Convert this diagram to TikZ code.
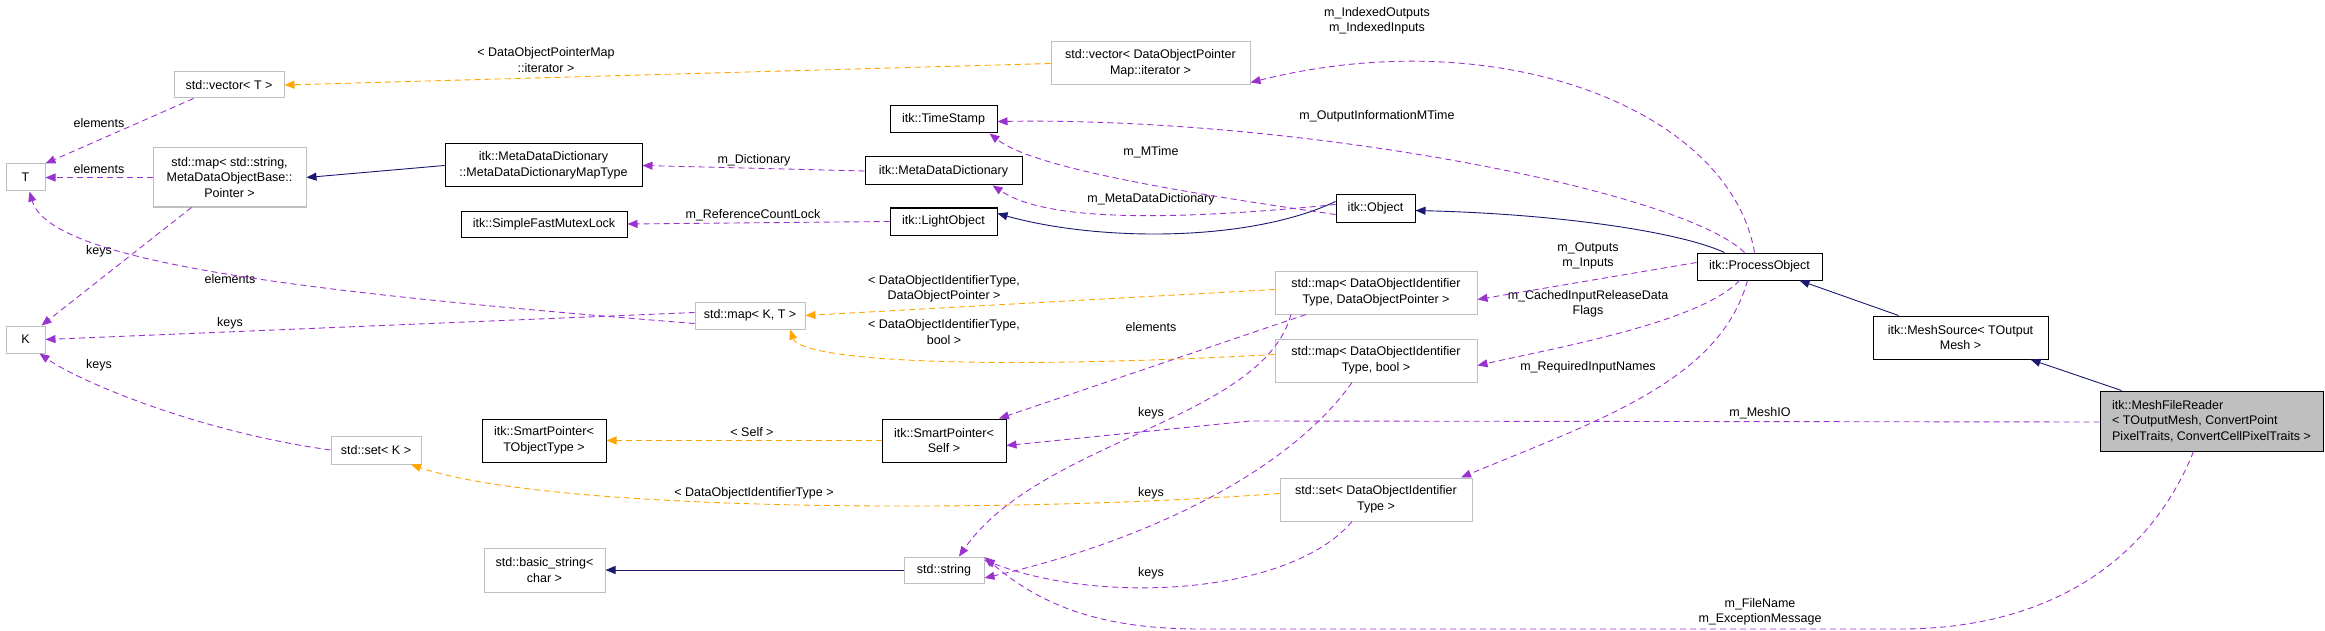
\documentclass[tikz,border=0pt]{standalone}
\usepackage{fontspec}
\setmainfont{Liberation Sans}
\usetikzlibrary{arrows.meta}
\definecolor{pur}{HTML}{9A32CD}
\definecolor{org}{HTML}{FFA500}
\definecolor{nav}{HTML}{191970}
\definecolor{gb}{HTML}{BFBFBF}
\begin{document}
\begin{tikzpicture}[x=1pt,y=-1pt,
  font=\fontsize{12.5}{15.5}\selectfont,
  box/.style={draw=black,line width=1pt,inner sep=0pt,align=center,minimum width=#1},
  gbox/.style={box=#1,draw=gb},
  lab/.style={inner sep=0pt,align=center},
  tip/.style={-{Triangle[length=10pt,width=8pt]}},
  mem/.style={tip,pur,line width=0.9pt,dash pattern=on 6pt off 4pt},
  tpl/.style={tip,org,line width=0.9pt,dash pattern=on 6pt off 4pt},
  inh/.style={tip,nav,line width=0.9pt}]
\useasboundingbox (0,0) rectangle (2325,631);
% nodes
\node[gbox=110pt,minimum height=26pt] (vecT) at (229,85) {std::vector< T >};
\node[gbox=39pt,minimum height=27pt] (T) at (25.5,177.5) {T};
\node[gbox=153pt,minimum height=59pt] (mapStr) at (229.5,177.5) {std::map< std::string,\\MetaDataObjectBase::\\Pointer >};
\node[box=197pt,minimum height=43pt] (MDDMT) at (543.5,165.5) {itk::MetaDataDictionary\\::MetaDataDictionaryMapType};
\node[box=166pt,minimum height=26pt] (SFML) at (544,224) {itk::SimpleFastMutexLock};
\node[gbox=39pt,minimum height=27pt] (K) at (25.5,339.5) {K};
\node[gbox=110pt,minimum height=27pt] (mapKT) at (750,315.5) {std::map< K, T >};
\node[gbox=90pt,minimum height=28pt] (setK) at (376,450) {std::set< K >};
\node[box=124pt,minimum height=43pt] (SPT) at (544,440.5) {itk::SmartPointer<\\TObjectType >};
\node[gbox=121pt,minimum height=44pt] (bstr) at (544.5,570) {std::basic\_string<\\char >};
\node[gbox=199pt,minimum height=43pt] (vecD) at (1150.5,63.5) {std::vector< DataObjectPointer\\Map::iterator >};
\node[box=107pt,minimum height=27pt] (TS) at (943.5,119.5) {itk::TimeStamp};
\node[box=157pt,minimum height=28pt] (MDD) at (943.5,171) {itk::MetaDataDictionary};
\node[box=107pt,minimum height=27pt] (LO) at (943.5,221.5) {itk::LightObject};
\node[box=79pt,minimum height=27pt] (Obj) at (1375.5,208.5) {itk::Object};
\node[gbox=202pt,minimum height=43pt] (mapDOP) at (1376,292.5) {std::map< DataObjectIdentifier\\Type, DataObjectPointer >};
\node[gbox=202pt,minimum height=43pt] (mapB) at (1376,360.5) {std::map< DataObjectIdentifier\\Type, bool >};
\node[box=124pt,minimum height=43pt] (SPS) at (944,440.5) {itk::SmartPointer<\\Self >};
\node[gbox=192pt,minimum height=43pt] (setD) at (1376,499.5) {std::set< DataObjectIdentifier\\Type >};
\node[gbox=80pt,minimum height=26pt] (str) at (944,570) {std::string};
\node[box=125pt,minimum height=27pt] (PO) at (1759.5,266.5) {itk::ProcessObject};
\node[box=175pt,minimum height=43pt] (MS) at (1960.5,337.5) {itk::MeshSource< TOutput\\Mesh >};
\node[box=223pt,minimum height=60pt,fill=gb,align=left] (MFR) at (2211.5,421) {itk::MeshFileReader\\< TOutputMesh, ConvertPoint\\PixelTraits, ConvertCellPixelTraits >};
% labels
\node[lab] (l1) at (546,60) {< DataObjectPointerMap\\::iterator >};
\node[lab] (l2) at (99,123) {elements};
\node[lab] (l3) at (99,169) {elements};
\node[lab] (l4) at (99,251) {keys};
\node[lab] (l5) at (230,279) {elements};
\node[lab] (l6) at (230,323) {keys};
\node[lab] (l7) at (99,365) {keys};
\node[lab] (l8) at (754,160) {m\_Dictionary};
\node[lab] (l9) at (753,215) {m\_ReferenceCountLock};
\node[lab] (l10) at (752,432) {< Self >};
\node[lab] (l11) at (754,493) {< DataObjectIdentifierType >};
\node[lab] (l12) at (1377,21) {m\_IndexedOutputs\\m\_IndexedInputs};
\node[lab] (l13) at (1377,116) {m\_OutputInformationMTime};
\node[lab] (l14) at (1151,152) {m\_MTime};
\node[lab] (l15) at (1151,199) {m\_MetaDataDictionary};
\node[lab] (l16) at (944,289) {< DataObjectIdentifierType,\\DataObjectPointer >};
\node[lab] (l17) at (944,332) {< DataObjectIdentifierType,\\bool >};
\node[lab] (l18) at (1151,327) {elements};
\node[lab] (l19) at (1151,413) {keys};
\node[lab] (l20) at (1151,493) {keys};
\node[lab] (l21) at (1151,573) {keys};
\node[lab] (l22) at (1588,256) {m\_Outputs\\m\_Inputs};
\node[lab] (l23) at (1588,304) {m\_CachedInputReleaseData\\Flags};
\node[lab] (l24) at (1588,367) {m\_RequiredInputNames};
\node[lab] (l25) at (1760,413) {m\_MeshIO};
\node[lab] (l26) at (1760,612) {m\_FileName\\m\_ExceptionMessage};
% edges
\coordinate (a1) at (1250,421);
\coordinate (a2) at (1900,629);
\coordinate (a3) at (1200,629);
\draw[tpl] (vecD.west) -- (vecT.east);
\draw[mem] (vecT.south west) ++(20,0) coordinate (c1) (c1) -- (T.north east);
\draw[mem] (mapStr.west) -- (T.east);
\draw[mem] ([xshift=-38pt]mapStr.south) -- ([xshift=16pt]K.north);
\draw[inh] (MDDMT.west) -- (mapStr.east);
\draw[mem] (MDD.west) -- (MDDMT.east);
\draw[mem] (LO.west) -- (SFML.east);
\draw[mem] ([yshift=-8pt]mapKT.west) .. controls (300,292) and (50,262) .. ([xshift=4pt]T.south);
\draw[mem] ([yshift=3pt]mapKT.west) -- (K.east);
\draw[mem] (setK.west) .. controls (200,432) and (80,382) .. ([xshift=14pt]K.south);
\draw[tpl] ([yshift=6pt]setD.west) .. controls (1000,514) and (550,512) .. ([xshift=35pt]setK.south);
\draw[tpl] (SPS.west) -- (SPT.east);
\draw[inh] (str.west) -- (bstr.east);
\draw[tpl] ([yshift=3pt]mapDOP.west) -- (mapKT.east);
\draw[tpl] ([yshift=6pt]mapB.west) .. controls (950,372) and (800,358) .. ([xshift=40pt]mapKT.south);
\draw[mem] ([xshift=-70pt]mapDOP.south) -- ([xshift=55pt]SPS.north);
\draw[mem] ([xshift=-85pt]mapDOP.south) .. controls (1262,420) and (1040,440) .. ([xshift=15pt]str.north);
\draw[mem] ([xshift=-24pt]mapB.south) .. controls (1290,470) and (1150,540) .. ([yshift=-8pt]str.east);
\draw[mem] ([xshift=-24pt]setD.south) .. controls (1290,595) and (1100,605) .. ([yshift=10pt]str.east);
\draw[mem] ([xshift=-18pt]MFR.south) .. controls (2150,560) and (2050,629) .. (a2) -- (a3) .. controls (1100,629) and (1040,605) .. ([yshift=13pt]str.east);
\draw[mem] ([yshift=-1pt]MFR.west) -- (a1) -- ([yshift=-5pt]SPS.east);
\draw[inh] ([xshift=-90pt]MFR.north) -- ([xshift=70pt]MS.south);
\draw[inh] ([xshift=-62pt]MS.north) -- ([xshift=40pt]PO.south);
\draw[inh] ([xshift=-35pt]PO.north) .. controls (1680,232) and (1560,214) .. ([yshift=-2pt]Obj.east);
\draw[inh] ([yshift=7pt]Obj.west) .. controls (1250,242) and (1100,242) .. ([yshift=8pt]LO.east);
\draw[mem] ([yshift=-6pt]Obj.west) .. controls (1150,188) and (1030,165) .. ([xshift=-8pt]TS.south east);
\draw[mem] ([yshift=4pt]Obj.west) .. controls (1100,228) and (1030,210) .. ([xshift=-30pt]MDD.south east);
\draw[mem] ([xshift=-15pt]PO.north) .. controls (1680,190) and (1300,117) .. ([yshift=-2pt]TS.east);
\draw[mem] ([xshift=-5pt]PO.north) .. controls (1730,110) and (1500,20) .. ([yshift=-19pt]vecD.east);
\draw[mem] ([yshift=4pt]PO.west) -- ([yshift=-7pt]mapDOP.east);
\draw[mem] ([xshift=-20pt]PO.south) .. controls (1700,322) and (1560,347) .. ([yshift=-5pt]mapB.east);
\draw[mem] ([xshift=-12pt]PO.south) .. controls (1720,380) and (1600,420) .. ([xshift=85pt]setD.north);
\end{tikzpicture}
\end{document}
